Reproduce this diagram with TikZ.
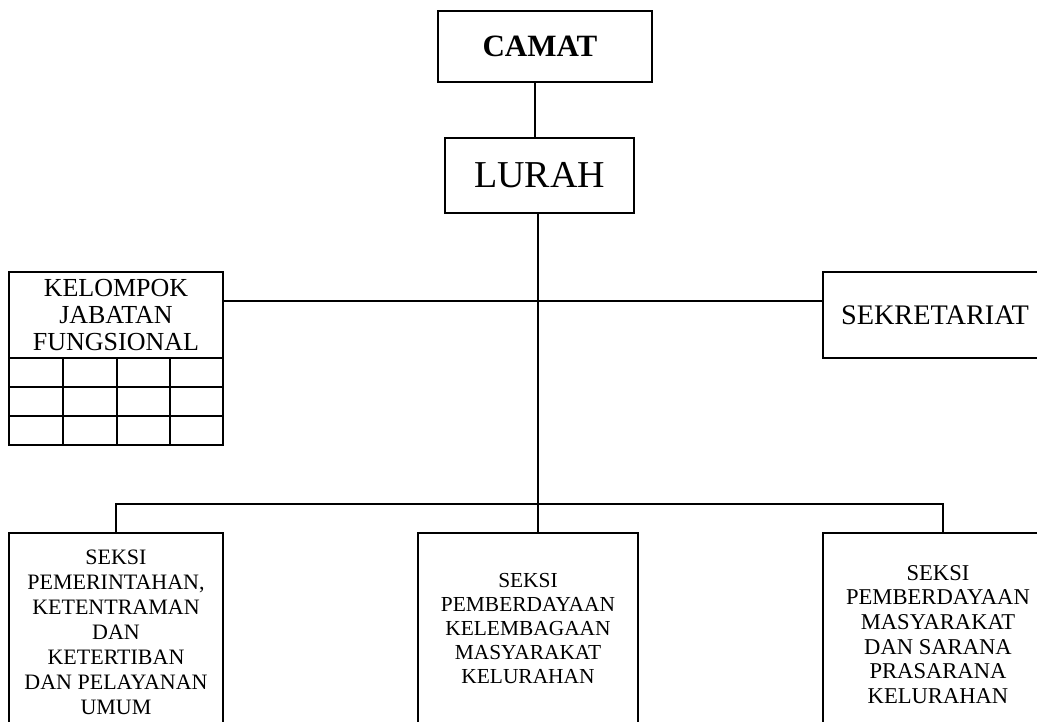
\documentclass[tikz,border=0pt]{standalone}
\usepackage{fontspec}
\setmainfont{Liberation Serif}
\begin{document}
\begin{tikzpicture}[x=1pt,y=-1pt,
  box/.style={draw, line width=1.3pt, inner sep=0pt, align=center},
  conn/.style={line width=1.3pt},
  mid/.style={font=\fontsize{26}{27}\selectfont}]
\useasboundingbox (0,0) rectangle (1037,721);
\clip (0,0) rectangle (1037,721);
\node[box, minimum width=214, minimum height=71, font=\fontsize{31}{34}\selectfont\bfseries] (camat) at (545,46.5) {\hspace*{-10pt}CAMAT};
\node[box, minimum width=189, minimum height=75, font=\fontsize{38}{42}\selectfont] (lurah) at (539.5,175.5) {LURAH};
\node[box, mid, minimum width=214, minimum height=86] (kel) at (116,315) {KELOMPOK\\JABATAN\\FUNGSIONAL};
\node[box, minimum width=224, minimum height=86, font=\fontsize{28.3}{30}\selectfont] (sek) at (935,315) {SEKRETARIAT};
\node[box, minimum width=214, minimum height=198, font=\fontsize{22}{25}\selectfont] (s1) at (116,632) {SEKSI\\PEMERINTAHAN,\\KETENTRAMAN\\DAN\\KETERTIBAN\\DAN PELAYANAN\\UMUM};
\node[box, minimum width=220, minimum height=192, font=\fontsize{21.4}{24}\selectfont] (s2) at (528,629) {SEKSI\\PEMBERDAYAAN\\KELEMBAGAAN\\MASYARAKAT\\KELURAHAN};
\node[box, minimum width=230, minimum height=203, font=\fontsize{22.6}{24.7}\selectfont] (s3) at (938,634.5) {SEKSI\\PEMBERDAYAAN\\MASYARAKAT\\DAN SARANA\\PRASARANA\\KELURAHAN};
% grid under KELOMPOK
\draw[conn] (9,358) rectangle (223,445);
\foreach \yy in {387,416} \draw[conn] (9,\yy) -- (223,\yy);
\foreach \xx in {63,117,170} \draw[conn] (\xx,358) -- (\xx,445);
% connectors
\coordinate (c1) at (535,0);
\coordinate (trunk) at (538,0);
\coordinate (hb) at (538,301);
\coordinate (bar) at (538,504);
\coordinate (d3) at (943,0);
\draw[conn] (camat.south -| c1) -- (lurah.north -| c1);
\draw[conn] (lurah.south -| trunk) -- (s2.north -| trunk);
\draw[conn] (kel.east |- hb) -- (sek.west |- hb);
\draw[conn] (s1.north) -- (s1.north |- bar) -- (d3 |- bar) -- (d3 |- s3.north);
\end{tikzpicture}
\end{document}
